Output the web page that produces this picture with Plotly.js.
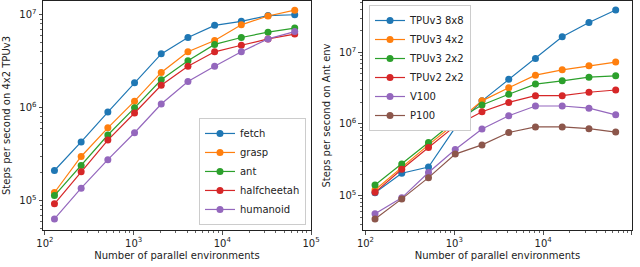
<!DOCTYPE html>
<html>
<head>
<meta charset="utf-8">
<script src="https://cdn.plot.ly/plotly-3.0.1.min.js"></script>
<style>html,body{margin:0;padding:0;background:#fff;}#chart{width:640px;height:267px;}</style>
</head>
<body>
<div id="chart"></div>
<script>
// Shared x values: number of parallel environments
const envCounts = [128, 256, 512, 1024, 2048, 4096, 8192, 16384, 32768, 65536];

// Left panel: steps per second on 4x2 TPUv3, by environment
const leftNames = ['fetch', 'grasp', 'ant', 'halfcheetah', 'humanoid'];
const fetchVals       = [2.12e5, 4.3e5, 9.0e5, 1.86e6, 3.8e6, 5.7e6, 7.7e6, 8.5e6, 9.8e6, 1.0e7];
const graspVals       = [1.23e5, 3.0e5, 6.1e5, 1.18e6, 2.4e6, 4.0e6, 5.3e6, 7.8e6, 9.7e6, 1.12e7];
const antVals         = [1.14e5, 2.4e5, 5.1e5, 1.0e6, 2.0e6, 3.2e6, 4.8e6, 5.7e6, 6.5e6, 7.2e6];
const halfcheetahVals = [9.3e4, 2.05e5, 4.5e5, 8.8e5, 1.75e6, 2.8e6, 4.0e6, 4.7e6, 5.5e6, 6.2e6];
const humanoidVals    = [6.4e4, 1.37e5, 2.77e5, 5.4e5, 1.1e6, 1.92e6, 2.8e6, 4.0e6, 5.5e6, 6.6e6];

// Right panel: steps per second on Ant env, by hardware
const rightNames = ['TPUv3 8x8', 'TPUv3 4x2', 'TPUv3 2x2', 'TPUv2 2x2', 'V100', 'P100'];
const tpuv3_8x8 = [1.1e5, 2.05e5, 2.5e5, 8.9e5, 2.1e6, 4.2e6, 8.2e6, 1.65e7, 2.6e7, 3.9e7];
const tpuv3_4x2 = [1.2e5, 2.5e5, 5.1e5, 1.02e6, 2.1e6, 3.2e6, 4.8e6, 5.7e6, 6.5e6, 7.3e6];
const tpuv3_2x2 = [1.41e5, 2.77e5, 5.5e5, 1.11e6, 1.84e6, 2.6e6, 3.6e6, 4.0e6, 4.5e6, 4.7e6];
const tpuv2_2x2 = [1.11e5, 2.33e5, 4.7e5, 9.4e5, 1.48e6, 2.0e6, 2.48e6, 2.48e6, 2.77e6, 2.98e6];
const v100      = [5.6e4, 9.3e4, 2.1e5, 4.4e5, 8.5e5, 1.3e6, 1.78e6, 1.78e6, 1.66e6, 1.34e6];
const p100      = [4.7e4, 9.0e4, 1.78e5, 3.8e5, 5.1e5, 7.6e5, 9.1e5, 9.1e5, 8.6e5, 7.7e5];

// Tick values and labels
const xTickVals = [1e2, 1e3, 1e4, 1e5];
const xTickText = ['10<sup>2</sup>', '10<sup>3</sup>', '10<sup>4</sup>', '10<sup>5</sup>'];
const yTickVals = [1e5, 1e6, 1e7];
const yTickText = ['10<sup>5</sup>', '10<sup>6</sup>', '10<sup>7</sup>'];
// Minor log ticks (2..9 within each decade)
const minorTicks = [];
for (let e = 1; e <= 8; e++) {
  for (let m = 2; m <= 9; m++) minorTicks.push(m * Math.pow(10, e));
}

const colors = ['#1f77b4', '#ff7f0e', '#2ca02c', '#d62728', '#9467bd', '#8c564b'];

const leftSeries = [fetchVals, graspVals, antVals, halfcheetahVals, humanoidVals];
const rightSeries = [tpuv3_8x8, tpuv3_4x2, tpuv3_2x2, tpuv2_2x2, v100, p100];

const traces = [];
leftSeries.forEach((ys, i) => {
  traces.push({
    x: envCounts, y: ys, name: leftNames[i], type: 'scatter', mode: 'lines+markers',
    line: {color: colors[i], width: 1.2}, marker: {color: colors[i], size: 7},
    xaxis: 'x', yaxis: 'y', legend: 'legend'
  });
});
rightSeries.forEach((ys, i) => {
  traces.push({
    x: envCounts, y: ys, name: rightNames[i], type: 'scatter', mode: 'lines+markers',
    line: {color: colors[i], width: 1.2}, marker: {color: colors[i], size: 7},
    xaxis: 'x2', yaxis: 'y2', legend: 'legend2'
  });
});

const font = {family: 'DejaVu Sans, sans-serif', size: 10, color: '#222'};
function axisBase(tv, tt) {
  return {
    type: 'log', showgrid: false, zeroline: false,
    showline: true, linecolor: '#222', linewidth: 1, mirror: true,
    ticks: 'outside', ticklen: 3.5, tickwidth: 0.8, tickcolor: '#222',
    tickmode: 'array', tickvals: tv, ticktext: tt,
    minor: {ticks: 'outside', ticklen: 2, tickwidth: 0.7, tickcolor: '#222',
            tickmode: 'array', tickvals: minorTicks, showgrid: false},
    tickfont: {family: 'DejaVu Sans, sans-serif', size: 10, color: '#222'},
    automargin: false
  };
}

const layout = {
  width: 640, height: 267,
  margin: {l: 43, r: 8, t: 1, b: 37},
  paper_bgcolor: '#fff', plot_bgcolor: '#fff',
  font: font,
  showlegend: true,
  xaxis: Object.assign(axisBase(xTickVals, xTickText), {domain: [0, 0.455], range: [1.978, 5.0],
    title: {text: 'Number of parallel environments', font: font, standoff: 4}}),
  yaxis: Object.assign(axisBase(yTickVals, yTickText), {range: [4.687, 7.148], anchor: 'x',
    title: {text: 'Steps per second on 4x2 TPUv3', font: font, standoff: 6}}),
  xaxis2: Object.assign(axisBase(xTickVals, xTickText), {domain: [0.543, 1], range: [1.97, 5.0], anchor: 'y2',
    title: {text: 'Number of parallel environments', font: font, standoff: 4}}),
  yaxis2: Object.assign(axisBase(yTickVals, yTickText), {range: [4.52, 7.716], anchor: 'x2',
    title: {text: 'Steps per second on Ant env', font: font, standoff: 6}}),
  legend: {x: 0.4465, xanchor: 'right', y: 0.022, yanchor: 'bottom',
    bgcolor: '#fff', bordercolor: '#ccc', borderwidth: 1, font: font,
    itemwidth: 30, tracegroupgap: 0},
  legend2: {x: 0.5535, xanchor: 'left', y: 0.9825, yanchor: 'top',
    bgcolor: '#fff', bordercolor: '#ccc', borderwidth: 1, font: font,
    itemwidth: 30, tracegroupgap: 0}
};

Plotly.newPlot('chart', traces, layout, {displayModeBar: false, staticPlot: true});
</script>
</body>
</html>
